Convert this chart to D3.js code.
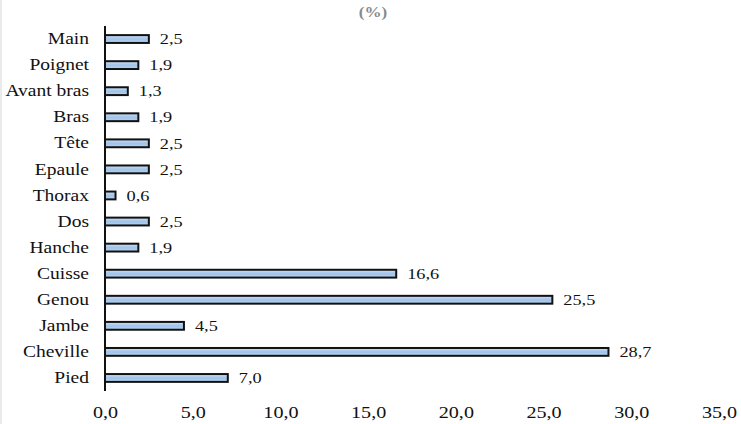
<!DOCTYPE html>
<html><head><meta charset="utf-8">
<script src="https://cdn.jsdelivr.net/npm/d3@7"></script>
<style>body{margin:0;background:#fff}svg{display:block}svg text{font-family:"Liberation Serif" !important}</style>
</head><body>
<script>
const categories = ["Main","Poignet","Avant bras","Bras","Tête","Epaule","Thorax","Dos","Hanche","Cuisse","Genou","Jambe","Cheville","Pied"];
const values = [2.5,1.9,1.3,1.9,2.5,2.5,0.6,2.5,1.9,16.6,25.5,4.5,28.7,7.0];
const xTicks = [0,5,10,15,20,25,30,35];
const unitLabel = "(%)";

const W=741,H=424, SX=1.22;
const FF='"Liberation Serif"';
const svg=d3.select("body").append("svg").attr("width",W).attr("height",H)
  .attr("font-family","Liberation Serif").style("font-family",FF);
const fmt=v=>v.toFixed(1).replace(".",",");
function stretch(sel){
  sel.each(function(){
    const t=d3.select(this); const xx=+(t.attr("x")||0);
    t.attr("transform",`translate(${xx},0) scale(${SX},1) translate(${-xx},0)`);
  });
}
const defs=svg.append("defs");
const g=defs.append("linearGradient").attr("id","bg").attr("x1",0).attr("y1",0).attr("x2",0).attr("y2",1);
g.append("stop").attr("offset","0%").attr("stop-color","#cfe1f6");
g.append("stop").attr("offset","50%").attr("stop-color","#9fc3ea");
g.append("stop").attr("offset","100%").attr("stop-color","#b9d3f0");

svg.append("line").attr("x1",1).attr("x2",1).attr("y1",0).attr("y2",H).attr("stroke","#d6d6d6");

const x=d3.scaleLinear().domain([0,35]).range([105,719]);
const y=d3.scaleBand().domain(categories).range([26,391]).paddingInner(0.7).paddingOuter(0.35);

svg.append("text").attr("x",373).attr("y",17).attr("text-anchor","middle")
  .style("font-family",FF).style("font-weight","bold").style("font-size","14px")
  .attr("fill","#8a8a8a").text(unitLabel).call(stretch);

svg.selectAll("rect.bar").data(categories).enter().append("rect").attr("class","bar")
  .attr("x",x(0)).attr("y",d=>y(d)).attr("width",(d,i)=>x(values[i])-x(0)).attr("height",y.bandwidth())
  .attr("fill","url(#bg)").attr("stroke","#111").attr("stroke-width",2);

svg.selectAll("text.val").data(categories).enter().append("text").attr("class","val")
  .attr("x",(d,i)=>x(values[i])+11).attr("y",d=>y(d)+y.bandwidth()/2).attr("dy","0.35em")
  .style("font-family",FF).style("font-size","15px").attr("fill","#111")
  .text((d,i)=>fmt(values[i])).call(stretch);

const ya=svg.append("g").attr("transform",`translate(${x(0)},0)`)
  .call(d3.axisLeft(y).tickSize(0).tickPadding(16));
ya.attr("font-family","Liberation Serif").attr("font-size",null);
ya.select(".domain").attr("stroke","#111").attr("stroke-width",2).attr("d",`M0,26V391`);
ya.selectAll("text").style("font-family",FF).style("font-size","16px").attr("fill","#111").call(stretch);

const xa=svg.append("g").attr("transform","translate(0,399)")
  .call(d3.axisBottom(x).tickValues(xTicks).tickSize(0).tickPadding(7).tickFormat(fmt));
xa.attr("font-family","Liberation Serif").attr("font-size",null);
xa.select(".domain").remove();
xa.selectAll("text").style("font-family",FF).style("font-size","16.5px").attr("fill","#111").call(stretch);
</script>
</body></html>
